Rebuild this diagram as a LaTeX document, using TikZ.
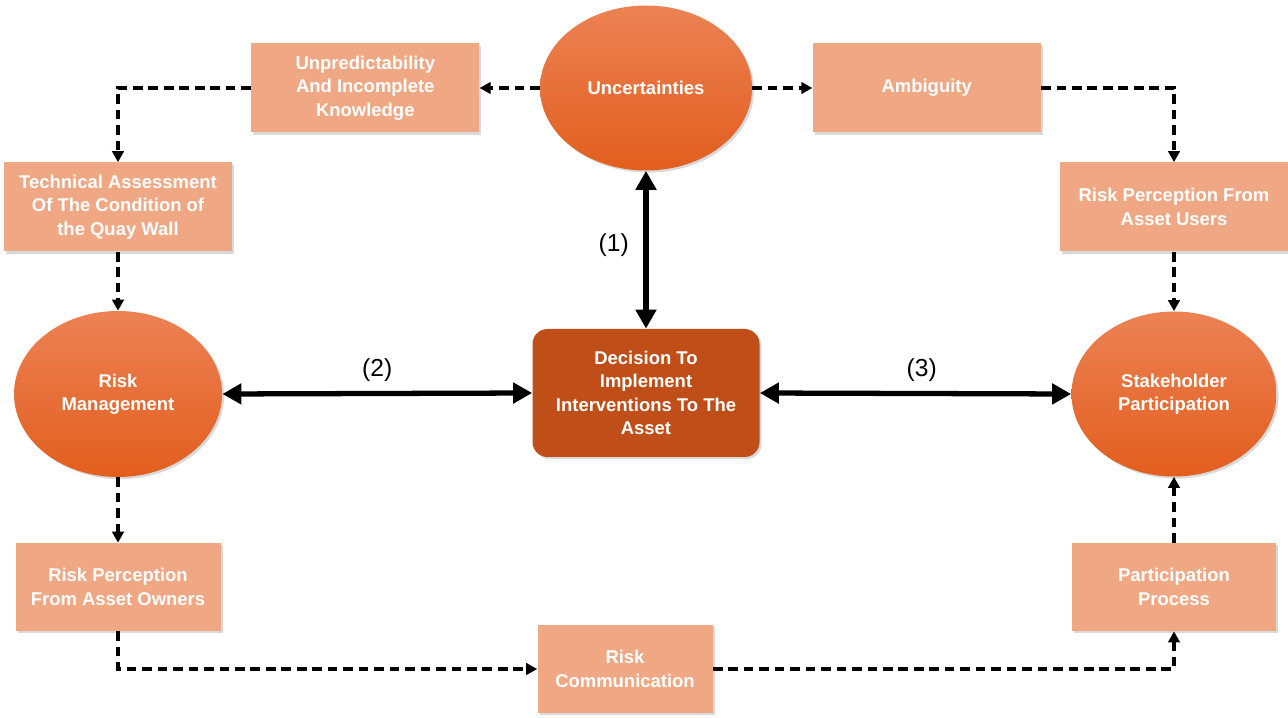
\documentclass[tikz,border=0pt]{standalone}
\usepackage{fontspec}
\setmainfont{Liberation Sans}
\usetikzlibrary{arrows.meta,positioning,calc,shapes.geometric,shadows}
\definecolor{boxfill}{RGB}{240,168,132}
\definecolor{ovaltop}{RGB}{236,130,84}
\definecolor{ovalbot}{RGB}{226,94,30}
\definecolor{decfill}{RGB}{192,78,24}

\begin{document}
\begin{tikzpicture}[>=Triangle,font=\fontsize{10.5}{13.3}\selectfont\bfseries,node distance=12mm,
  box/.style={fill=boxfill,text=white,align=center,inner sep=3pt,minimum width=4.56cm,minimum height=1.78cm,
    drop shadow={shadow xshift=1.2pt,shadow yshift=-1.2pt,opacity=0.3}},
  oval/.style={ellipse,top color=ovaltop,bottom color=ovalbot,text=white,align=center,inner sep=1pt,
    minimum width=4.2cm,minimum height=3.3cm,drop shadow={shadow xshift=1.2pt,shadow yshift=-1.2pt,opacity=0.3}},
  dec/.style={fill=decfill,rounded corners=0.3cm,text=white,align=center,inner sep=3pt,minimum width=4.54cm,minimum height=2.56cm,
    drop shadow={shadow xshift=1.2pt,shadow yshift=-1.2pt,opacity=0.3}},
  dsh/.style={line width=2pt,dash pattern=on 5.5pt off 3.3pt,-{Triangle[length=2.2mm,width=2.3mm]}},
  thk/.style={line width=3pt,{Triangle[length=3.8mm,width=4mm]}-{Triangle[length=3.8mm,width=4mm]}},
  lbl/.style={font=\fontsize{14}{16}\selectfont,text=black}]

  \useasboundingbox (0,0) rectangle (25.76,-14.36);

  \node[dec] (dec) at (12.92,-7.86) {Decision To\\Implement\\Interventions To The\\Asset};
  \node[oval,minimum width=4.24cm] (unc) at (12.92,-1.76) {Uncertainties};
  \node[box,left=of unc] (unp) {Unpredictability\\And Incomplete\\Knowledge};
  \node[box,right=of unc] (amb) {Ambiguity};
  \node[box] (tech) at (2.36,-4.14) {Technical Assessment\\Of The Condition of\\the Quay Wall};
  \node[box] (rpu) at (23.48,-4.14) {Risk Perception From\\Asset Users};
  \node[oval,minimum width=4.16cm,minimum height=3.32cm] (rm) at (2.36,-7.88) {Risk\\Management};
  \node[oval,minimum width=4.1cm] (sp) at (23.48,-7.88) {Stakeholder\\Participation};
  \node[box,minimum width=4.1cm,minimum height=1.76cm] (rpo) at (2.36,-11.74) {Risk Perception\\From Asset Owners};
  \node[box,minimum width=4.08cm,minimum height=1.76cm] (pp) at (23.48,-11.74) {Participation\\Process};
  \node[box,minimum width=3.5cm,minimum height=1.76cm] (rc) at (12.5,-13.38) {Risk\\Communication};

  % dashed flow round the outside
  \draw[dsh] (unc.west) -- (unp.east);
  \draw[dsh] (unc.east) -- (amb.west);
  \draw[dsh] (unp.west) -| (tech.north);
  \draw[dsh] (amb.east) -| (rpu.north);
  \draw[dsh] (tech.south) -- (rm.north);
  \draw[dsh] (rpu.south) -- (sp.north);
  \draw[dsh] (rm.south) -- (rpo.north);
  \draw[dsh] (rpo.south) |- (rc.west);
  \draw[dsh] (rc.east) -| (pp.south);
  \draw[dsh] (pp.north) -- (sp.south);

  % links to the decision
  \draw[thk] (unc.south) -- node[lbl,left=5pt,pos=0.47]{(1)} (dec.north);
  \draw[thk] (rm.east) -- node[lbl,above=2pt,pos=0.5]{(2)} (dec.west);
  \draw[thk] (dec.east) -- node[lbl,above=2pt,pos=0.52]{(3)} (sp.west);
\end{tikzpicture}
\end{document}
